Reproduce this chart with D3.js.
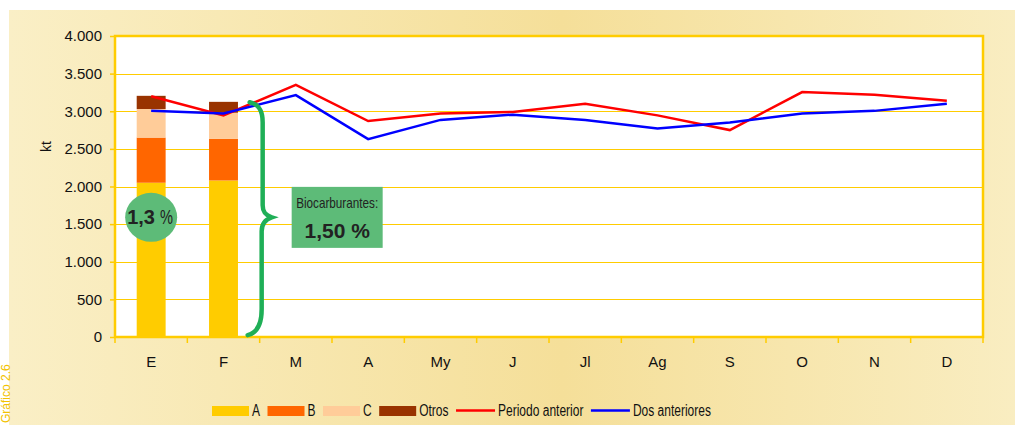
<!DOCTYPE html>
<html>
<head>
<meta charset="utf-8">
<script src="https://cdn.jsdelivr.net/npm/d3@7"></script>
<style>
    body { margin: 0; background: #fff; }
    svg { display: block; font-family: 'Liberation Sans', Arial, sans-serif; }
</style>
</head>
<body>
<div id="chart"></div>
<script>
// months on the x axis
const months = ['E', 'F', 'M', 'A', 'My', 'J', 'Jl', 'Ag', 'S', 'O', 'N', 'D'];

// stacked bars (kt), only the months already reported
const barMonths = ['E', 'F'];
const serieA = [2050, 2080];
const serieB = [600, 555];
const serieC = [380, 345];
const serieOtros = [175, 145];

// comparison lines (kt)
const periodoAnterior = [3200, 2945, 3350, 2870, 2970, 2990, 3100, 2945, 2750, 3255, 3220, 3140];
const dosAnteriores = [3005, 2970, 3215, 2630, 2885, 2955, 2885, 2770, 2850, 2970, 3005, 3100];

const yTicks = [0, 500, 1000, 1500, 2000, 2500, 3000, 3500, 4000];

const stackKeys = ['A', 'B', 'C', 'Otros'];
const stackColors = { A: '#ffcc00', B: '#ff6600', C: '#ffcc99', Otros: '#993300' };

const config = {
    containerWidth: 1015,
    containerHeight: 425,
    margin: { top: 36, right: 32, bottom: 88, left: 115 }
};

const width = config.containerWidth - config.margin.left - config.margin.right;
const height = config.containerHeight - config.margin.top - config.margin.bottom;

// squeeze a text horizontally (no narrow face installed)
function condense(sel, factor) {
    sel.each(function () {
        const len = this.getComputedTextLength();
        d3.select(this)
            .attr('textLength', len * factor)
            .attr('lengthAdjust', 'spacingAndGlyphs');
    });
}

const svg = d3.select('#chart')
    .append('svg')
    .attr('width', config.containerWidth)
    .attr('height', config.containerHeight);

// background panel with soft horizontal gradient
const grad = svg.append('defs').append('linearGradient')
    .attr('id', 'bg')
    .attr('x1', 0).attr('x2', 1).attr('y1', 0).attr('y2', 0);
grad.append('stop').attr('offset', '0%').attr('stop-color', '#faefc6');
grad.append('stop').attr('offset', '55%').attr('stop-color', '#f5df99');
grad.append('stop').attr('offset', '100%').attr('stop-color', '#f9edc1');

svg.append('rect')
    .attr('x', 9).attr('y', 10)
    .attr('width', config.containerWidth - 9)
    .attr('height', config.containerHeight - 10)
    .attr('fill', 'url(#bg)');

// figure label on the left edge
svg.append('text')
    .attr('transform', 'translate(10,423) rotate(-90)')
    .style('font-size', '12px')
    .style('fill', '#f2c200')
    .text('Gráfico 2.6');

const chart = svg.append('g')
    .attr('transform', `translate(${config.margin.left},${config.margin.top})`);

const xScale = d3.scaleBand()
    .domain(months)
    .range([0, width]);

const yScale = d3.scaleLinear()
    .domain([0, 4000])
    .range([height, 0]);

const esLocale = d3.formatLocale({ decimal: ',', thousands: '.', grouping: [3], currency: ['', ''] });
const fmt = esLocale.format(',');

// plot area
chart.append('rect')
    .attr('width', width)
    .attr('height', height)
    .attr('fill', '#fff');

// gridlines
chart.append('g')
    .attr('class', 'grid')
    .selectAll('line')
    .data(yTicks.filter(d => d > 0 && d < 4000))
    .join('line')
    .attr('x1', 0)
    .attr('x2', width)
    .attr('y1', d => Math.round(yScale(d)) + 0.5)
    .attr('y2', d => Math.round(yScale(d)) + 0.5)
    .attr('stroke', '#ffcc00')
    .attr('stroke-width', 1);

// stacked bars
const barData = barMonths.map((m, i) => ({ month: m, A: serieA[i], B: serieB[i], C: serieC[i], Otros: serieOtros[i] }));
const stacked = d3.stack().keys(stackKeys)(barData);
const barW = xScale.bandwidth() * 0.4;

chart.append('g')
    .selectAll('g')
    .data(stacked)
    .join('g')
    .attr('fill', d => stackColors[d.key])
    .selectAll('rect')
    .data(d => d)
    .join('rect')
    .attr('x', d => xScale(d.data.month) + (xScale.bandwidth() - barW) / 2)
    .attr('y', d => yScale(d[1]))
    .attr('width', barW)
    .attr('height', d => yScale(d[0]) - yScale(d[1]));

// lines
const line = d3.line()
    .x((d, i) => xScale(months[i]) + xScale.bandwidth() / 2)
    .y(d => yScale(d));

chart.append('path')
    .datum(periodoAnterior)
    .attr('d', line)
    .attr('fill', 'none')
    .attr('stroke', '#ff0000')
    .attr('stroke-width', 2.5);

chart.append('path')
    .datum(dosAnteriores)
    .attr('d', line)
    .attr('fill', 'none')
    .attr('stroke', '#0000ff')
    .attr('stroke-width', 2.5);

// border of plot area
chart.append('rect')
    .attr('width', width)
    .attr('height', height)
    .attr('fill', 'none')
    .attr('stroke', '#ffcc00')
    .attr('stroke-width', 2.5);

// y axis
const yAxis = d3.axisLeft(yScale)
    .tickValues(yTicks)
    .tickSize(5)
    .tickPadding(8)
    .tickFormat(fmt);

const yAxisG = chart.append('g').attr('class', 'axis y-axis').call(yAxis);
yAxisG.select('.domain').remove();
yAxisG.selectAll('line').attr('stroke', '#ffcc00').attr('stroke-width', 1.5);
yAxisG.selectAll('text')
    .style('font-size', '15px')
    .style('font-family', "'Liberation Sans', Arial, sans-serif")
    .attr('fill', '#111');

// x axis: labels centred, ticks on band boundaries
const xAxis = d3.axisBottom(xScale)
    .tickSize(0)
    .tickPadding(19);

const xAxisG = chart.append('g')
    .attr('class', 'axis x-axis')
    .attr('transform', `translate(0,${height})`)
    .call(xAxis);
xAxisG.select('.domain').remove();
xAxisG.selectAll('text')
    .style('font-size', '15px')
    .style('font-family', "'Liberation Sans', Arial, sans-serif")
    .attr('fill', '#111');

const bounds = months.map(m => xScale(m)).concat([width]);
chart.append('g')
    .attr('transform', `translate(0,${height})`)
    .selectAll('line')
    .data(bounds)
    .join('line')
    .attr('x1', d => d).attr('x2', d => d)
    .attr('y1', 0).attr('y2', 6)
    .attr('stroke', '#ffcc00')
    .attr('stroke-width', 1.5);

// y axis label
svg.append('text')
    .attr('transform', `translate(51,${config.margin.top + yScale(2530)}) rotate(-90)`)
    .style('text-anchor', 'middle')
    .style('font-size', '14px')
    .attr('fill', '#111')
    .text('kt');

// annotation: share in January
const eCx = xScale('E') + xScale.bandwidth() / 2;
const eCy = yScale(1590);
chart.append('ellipse')
    .attr('cx', eCx)
    .attr('cy', eCy)
    .attr('rx', 26)
    .attr('ry', 24.5)
    .attr('fill', '#5dbb78');
const eTxt = chart.append('text')
    .attr('x', eCx - 24)
    .attr('y', eCy + 7)
    .attr('fill', '#222');
eTxt.append('tspan').style('font-size', '20px').style('font-weight', 'bold').text('1,3');
eTxt.append('tspan').attr('dx', 5).style('font-size', '20px').attr('textLength', 13)
    .attr('lengthAdjust', 'spacingAndGlyphs').text('%');

// curly brace next to February
const bx = xScale('F') + xScale.bandwidth() + 3;
const bTop = yScale(3120);
const bMid = yScale(1590);
const bBot = yScale(25);
const brace = `M${bx - 13},${bTop}
    C${bx - 4},${bTop + 2} ${bx},${bTop + 8} ${bx},${bTop + 20}
    L${bx},${bMid - 12}
    C${bx},${bMid - 5} ${bx + 3},${bMid - 2} ${bx + 9},${bMid}
    C${bx + 3},${bMid + 2} ${bx - 1},${bMid + 6} ${bx - 1},${bMid + 14}
    L${bx - 1},${bBot - 26}
    C${bx - 1},${bBot - 10} ${bx - 6},${bBot - 2} ${bx - 15},${bBot}`;
chart.append('path')
    .attr('d', brace)
    .attr('fill', 'none')
    .attr('stroke', '#1faf57')
    .attr('stroke-width', 4.5)
    .attr('stroke-linecap', 'round');

// annotation box: biofuel share
const boxX = xScale('M') + 32;
const boxY = yScale(1995);
chart.append('rect')
    .attr('x', boxX)
    .attr('y', boxY)
    .attr('width', 91)
    .attr('height', 61)
    .attr('fill', '#5dbb78');
chart.append('text')
    .attr('x', boxX + 45.5)
    .attr('y', boxY + 21)
    .attr('textLength', 82)
    .attr('lengthAdjust', 'spacingAndGlyphs')
    .style('text-anchor', 'middle')
    .style('font-size', '15px')
    .attr('fill', '#222')
    .text('Biocarburantes:');
chart.append('text')
    .attr('x', boxX + 45.5)
    .attr('y', boxY + 51)
    .style('text-anchor', 'middle')
    .style('font-size', '21px')
    .style('font-weight', 'bold')
    .attr('fill', '#222')
    .text('1,50 %');

// legend
const legendItems = stackKeys.map(k => ({ label: k, type: 'rect', color: stackColors[k] }))
    .concat([
        { label: 'Periodo anterior', type: 'line', color: '#ff0000' },
        { label: 'Dos anteriores', type: 'line', color: '#0000ff' }
    ]);

const legend = svg.append('g')
    .attr('class', 'legend')
    .attr('transform', 'translate(212,406)');

let lx = 0;
legendItems.forEach(item => {
    const g = legend.append('g').attr('transform', `translate(${lx},0)`);
    if (item.type === 'rect') {
        g.append('rect')
            .attr('width', 37)
            .attr('height', 10)
            .attr('fill', item.color);
    } else {
        g.append('line')
            .attr('x1', 0).attr('x2', 39)
            .attr('y1', 4.5).attr('y2', 4.5)
            .attr('stroke', item.color)
            .attr('stroke-width', 2.5);
    }
    const t = g.append('text')
        .attr('x', item.type === 'rect' ? 40 : 42)
        .attr('y', 10)
        .style('font-size', '16px')
        .attr('fill', '#111')
        .text(item.label);
    condense(t, 0.75);
    lx += (item.type === 'rect' ? 40 : 42) + +t.attr('textLength') + 7.5;
});
</script>
</body>
</html>
